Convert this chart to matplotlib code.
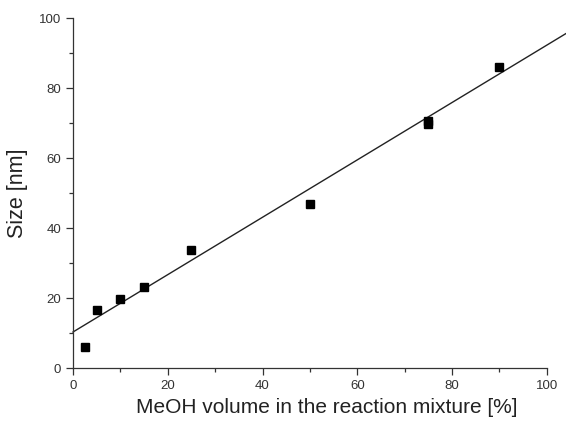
import matplotlib
matplotlib.use("Agg")
import matplotlib.pyplot as plt
import numpy as np

plt.rcParams['font.family'] = ['Liberation Sans', 'DejaVu Sans']

meoh = [2.5, 5, 10, 15, 25, 50, 75, 75, 90]
size = [6.0, 16.5, 19.8, 23.3, 33.8, 47.0, 69.8, 70.5, 86.0]
fit_intercept = 10.3
fit_slope = 0.82
fit_x = [0, 104]

fig = plt.figure(figsize=(5.66, 4.24), dpi=100)
ax = fig.add_axes([0.129, 0.132, 0.837, 0.825])

ax.plot(meoh, size, 's', color='black', ms=5.2, zorder=3)
fx = np.array(fit_x, dtype=float)
ax.plot(fx, fit_intercept + fit_slope * fx, '-', color='#222222', lw=1.0, clip_on=False)

ax.set_xlim(0, 100)
ax.set_ylim(0, 100)
ax.set_xticks([0, 20, 40, 60, 80, 100])
ax.set_yticks([0, 20, 40, 60, 80, 100])
ax.set_xticks([10, 30, 50, 70, 90], minor=True)
ax.set_yticks([10, 30, 50, 70, 90], minor=True)
for s in ['top', 'right']:
    ax.spines[s].set_visible(False)
for s in ['left', 'bottom']:
    ax.spines[s].set_color('#333333')
    ax.spines[s].set_linewidth(0.9)
ax.tick_params(which='major', direction='out', length=5, width=0.9, colors='#333333', labelsize=9.5, labelcolor='#333333')
ax.tick_params(which='minor', direction='out', length=3, width=0.9, colors='#333333')
ax.set_xlabel('MeOH volume in the reaction mixture [%]', fontsize=15.0, color='#222222', labelpad=5)
ax.xaxis.set_label_coords(0.536, -0.085)
ax.set_ylabel('Size [nm]', fontsize=15.5, color='#222222', labelpad=8)

fig.savefig('out.png', dpi=100)
